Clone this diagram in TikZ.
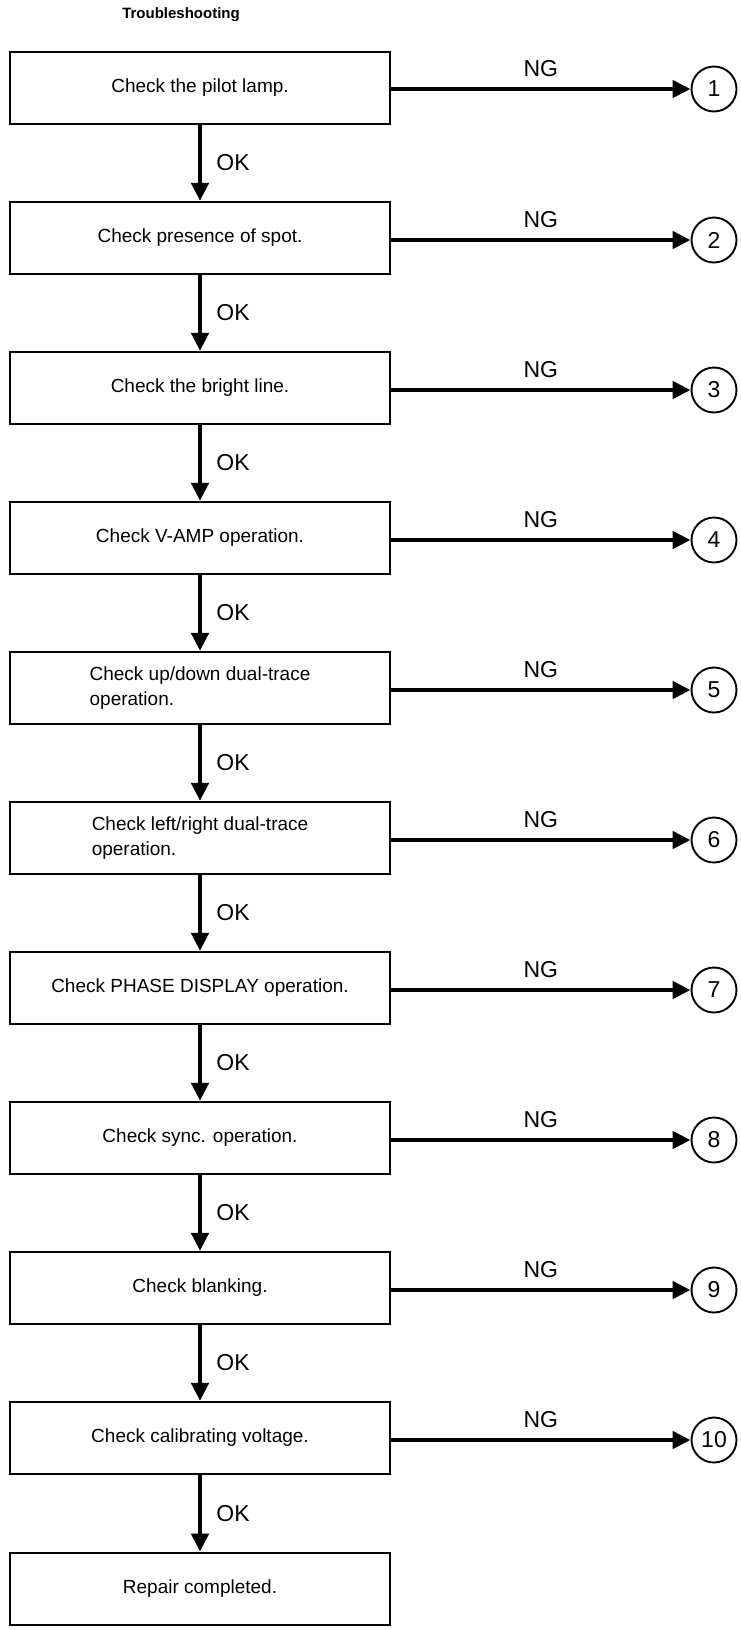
\documentclass[tikz,border=0pt]{standalone}
\usepackage{fontspec}
\setmainfont{Liberation Sans}
\usetikzlibrary{arrows.meta}
\begin{document}
\begin{tikzpicture}[x=1pt,y=1pt,
  box/.style={draw, line width=2.2pt, minimum width=380pt, minimum height=72pt, inner sep=0pt, align=left, font=\fontsize{19}{25}\selectfont},
  num/.style={draw, circle, line width=1.9pt, minimum size=45pt, inner sep=0pt, font=\fontsize{23}{23}\selectfont},
  flow/.style={line width=4.8pt, -{Triangle[length=18pt,width=17pt]}},
  lbl/.style={inner sep=0pt, font=\fontsize{23}{23}\selectfont}]
\useasboundingbox (0,0) rectangle (740,-1630);
\node[font=\bfseries\fontsize{15}{18}\selectfont] (title) at (181,-15) {Troubleshooting};
\node[box] (b1) at (200,-88) {Check the pilot lamp.};
\node[box] (b2) at (200,-238) {Check presence of spot.};
\node[box] (b3) at (200,-388) {Check the bright line.};
\node[box] (b4) at (200,-538) {Check V-AMP operation.};
\node[box] (b5) at (200,-688) {Check up/down dual-trace\\operation.};
\node[box] (b6) at (200,-838) {Check left/right dual-trace\\operation.};
\node[box] (b7) at (200,-988) {Check PHASE DISPLAY operation.};
\node[box] (b8) at (200,-1138) {Check sync. operation.};
\node[box] (b9) at (200,-1288) {Check blanking.};
\node[box] (b10) at (200,-1438) {Check calibrating voltage.};
\node[box, line width=2.8pt] (b11) at (200,-1589) {Repair completed.};
\foreach \i/\y in {1/-89,2/-240,3/-390,4/-540,5/-690,6/-840,7/-990,8/-1140,9/-1290,10/-1440}{
  \node[num] (c\i) at (714,\y) {\i};
  \draw[flow] (b\i.east |- c\i.west) -- node[lbl, above=10pt] (ng\i) {NG} (c\i.west);
}
\foreach \i/\j in {1/2,2/3,3/4,4/5,5/6,6/7,7/8,8/9,9/10,10/11}{
  \draw[flow] (b\i.south) -- node[lbl, right=14pt] (ok\i) {OK} (b\j.north);
}
\end{tikzpicture}
\end{document}
